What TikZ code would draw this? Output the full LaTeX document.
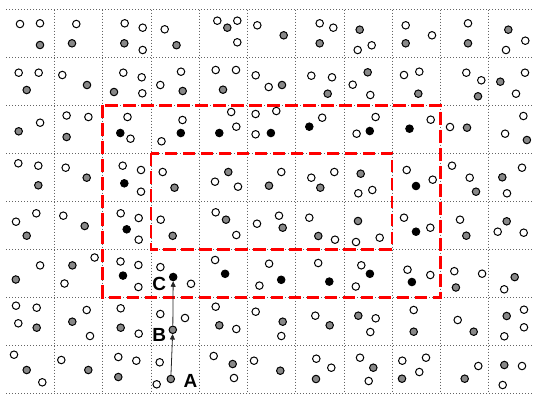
\documentclass[tikz,border=0pt]{standalone}
\usepackage{fontspec}
\newfontfamily\tagfont{Liberation Sans}
\usetikzlibrary{arrows.meta}
\definecolor{winred}{RGB}{255,0,0}
\definecolor{dotgrey}{RGB}{100,100,100}
\definecolor{pointgrey}{RGB}{136,136,136}
\tikzset{
  cellline/.style={dotgrey, line width=0.8pt, dash pattern=on 0.8pt off 2.2pt},
  window/.style  ={winred, line width=2.6pt, dash pattern=on 12.5pt off 5.5pt},
  ptbase/.style  ={circle, draw=black, line width=1pt, minimum size=7.5pt, inner sep=0pt},
  ptopen/.style  ={ptbase, fill=white},
  ptgray/.style  ={ptbase, fill=pointgrey},
  ptblack/.style ={ptbase, fill=black},
  walk/.style    ={-{Triangle[length=5.5pt,width=5pt]}, line width=0.8pt, black!85},
  ptlabel/.style ={font=\tagfont\fontsize{19}{19}\selectfont\bfseries, inner sep=0pt},
}

\begin{document}
\begin{tikzpicture}[x=1pt,y=-1pt]
  \useasboundingbox (0,0) rectangle (533,394);

  % ---- dotted cell grid ----------------------------------------------------
  \foreach \j in {0,...,8}
    \draw[cellline] (6,{9.5+47.94*\j}) -- (533,{9.5+47.94*\j});
  \foreach \i in {0,...,9}
    \draw[cellline] ({54.4+48.25*\i},9.5) -- ({54.4+48.25*\i},393);

  % ---- the two windows -----------------------------------------------------
  \draw[window] (102.65,105.4) rectangle (440.4,297.2);
  \draw[window] (150.9,153.3) rectangle (392.15,249.2);

  % ---- open points ---------------------------------------------------------
  \foreach [count=\n] \x/\y in {
      20/24, 40/23.3, 76.3/24, 124.7/23.3, 142.7/27.7, 142.7/50, 164.7/29.3,
      217.3/20.7, 237.3/20.7, 237.3/42.3, 257.3/25.3, 319.7/23.3, 333.3/27.7,
      357.7/50, 371.7/45.3, 405.7/25.3, 432/35.3, 468/23.3, 525.3/40.7, 506/50,
      18.7/72.7, 38.7/72.7, 62.3/75, 123.3/72.7, 141.7/77.3, 142.3/93.3,
      160.3/85, 181/71.7, 215.7/70, 236/70, 255.7/75.3, 268.7/87, 311.3/75.7,
      332/77.3, 352.7/84.7, 370.3/95, 404/75, 419.3/71.7, 466.3/72.7,
      481.3/80.3, 525/72.7, 516/93.7,
      40.1/122.7, 66.6/115.5, 88.4/117, 127.5/117, 130.5/138.7, 182.5/120,
      161.5/141.3, 231.2/112, 236.3/126.7, 255.6/114, 276.3/111, 255.6/134.3,
      322.2/117.7, 375.6/117, 356.6/133.7, 430.7/119.7, 450/127, 523.4/116,
      505.1/133.7,
      18.3/163.3, 38.3/165.7, 65.7/167.7, 122.7/165.7, 141/170, 141/191.7,
      162.7/172, 215/181.7, 238/186.7, 281.3/172, 311.3/177.7, 334.3/172,
      358.3/193.3, 372.3/190, 406.7/170, 432.7/179.7, 452/165.7, 469.7/177.7,
      522/167.7, 507/193.3,
      16/221.7, 36.3/213.3, 63.3/215.7, 120.7/213.3, 138.7/218, 138.7/239.7,
      160.7/219.7, 215.7/212.3, 236.3/235, 257/223.7, 279/215.7, 309.3/217.7,
      335/239.7, 356/242, 379.7/237.7, 404/217.7, 430.3/227.7, 460/219.7,
      497.7/231.7, 523.7/232.7,
      40.1/265.4, 64.5/283.5, 94.6/257.5, 120.5/261.5, 138.4/265, 138.4/287,
      160.4/267.1, 191/283.8, 215.1/260, 269.1/263.7, 259.4/285.6, 318.2/263,
      361.3/265.3, 355.8/286.5, 407.5/269.7, 430.3/275, 454.3/271.2,
      482.1/273.7, 504.2/289.3,
      16/305.7, 36.7/307.7, 18.3/323.3, 86.7/310, 90/336, 120.7/308.3,
      138.7/333.7, 160.3/314, 185/318, 215.7/306.7, 236.3/329, 255.7/311.7,
      281.3/336, 315.3/315.7, 375.7/318.3, 370.3/332, 413.7/310, 457.7/320,
      524/309.7, 524/327.3, 504.3/336.3,
      14/354.7, 42.3/382.3, 61.3/360, 118.3/357, 136.3/360.7, 159.7/362.3,
      156.7/384.3, 213.7/356, 234/378, 254/360.7, 316.3/358.7, 331.3/367.7,
      360/357.7, 368.7/381, 402.3/360.7, 426/357.7, 419.3/372, 478.3/366,
      522/366, 502.7/385}
    \node[ptopen] (w\n) at (\x,\y) {};

  % ---- grey points ---------------------------------------------------------
  \foreach [count=\n] \x/\y in {
      40/45, 72/43.3, 124.3/43.3, 176.5/45.2, 227.3/27.7, 283.7/35.3,
      319.7/43.3, 359.7/29.7, 405.7/43.3, 468/43.3, 508.3/29.7,
      26.7/90, 87/85, 114/92, 182.7/91, 223/89.7, 282/85, 327.7/93.7,
      367.7/72.3, 418.3/93.7, 478/96.3, 500.3/81.7,
      18.7/131.3, 66.6/137, 467/127.7, 526.9/140,
      38.3/185.3, 86.7/177.7, 174.5/187.7, 228.3/172, 269/185.7, 320.3/187.7,
      360.7/173.7, 476/191.7, 502.3/177.3,
      26.7/235.7, 84.7/226, 172.7/235.8, 226/219.7, 282.7/227.7, 318.3/236,
      358/221, 466.3/235.7, 506.7/221.3,
      15.8/279.5, 72.4/265.4, 455.9/287.5, 514.7/277.1,
      36.7/327.7, 72.3/321.7, 120.7/327.7, 219.3/325.3, 282.7/321.7,
      329.7/325.3, 358.3/315.7, 413.7/331.7, 473.7/331.7, 506.7/316,
      26.7/370, 88.3/370, 118.3/377, 232.7/364, 280.3/370.7, 316/379,
      373.3/367.7, 402/378.7, 464.7/378.7, 504.3/365}
    \node[ptgray] (g\n) at (\x,\y) {};

  % ---- black points --------------------------------------------------------
  \foreach [count=\n] \x/\y in {
      120.3/133, 180.8/133, 219.3/133, 270.9/133, 309.3/126.7, 369.8/131,
      409.5/128.7, 124.3/183.3, 416/186, 126.7/229.3, 416/231.7,
      123/275.6, 225.1/273.8, 281.2/279.8, 329.3/281.6, 369.9/273.8, 411.9/282}
    \node[ptblack] (k\n) at (\x,\y) {};

  % ---- the walk A -> B -> C ------------------------------------------------
  \node[ptgray]  (ptA) at (170.8,379) {};
  \node[ptgray]  (ptB) at (172.8,329.8) {};
  \node[ptblack] (ptC) at (173.2,277) {};
  \draw[walk] (ptA) -- (ptB);
  \draw[walk] (ptB) -- (ptC);
  \node[ptlabel] (labA) at ([xshift=19.7pt,yshift=-1.8pt]ptA) {A};
  \node[ptlabel] (labB) at ([xshift=-13.5pt,yshift=-5.5pt]ptB) {B};
  \node[ptlabel] (labC) at ([xshift=-13.9pt,yshift=-7pt]ptC) {C};
\end{tikzpicture}
\end{document}
